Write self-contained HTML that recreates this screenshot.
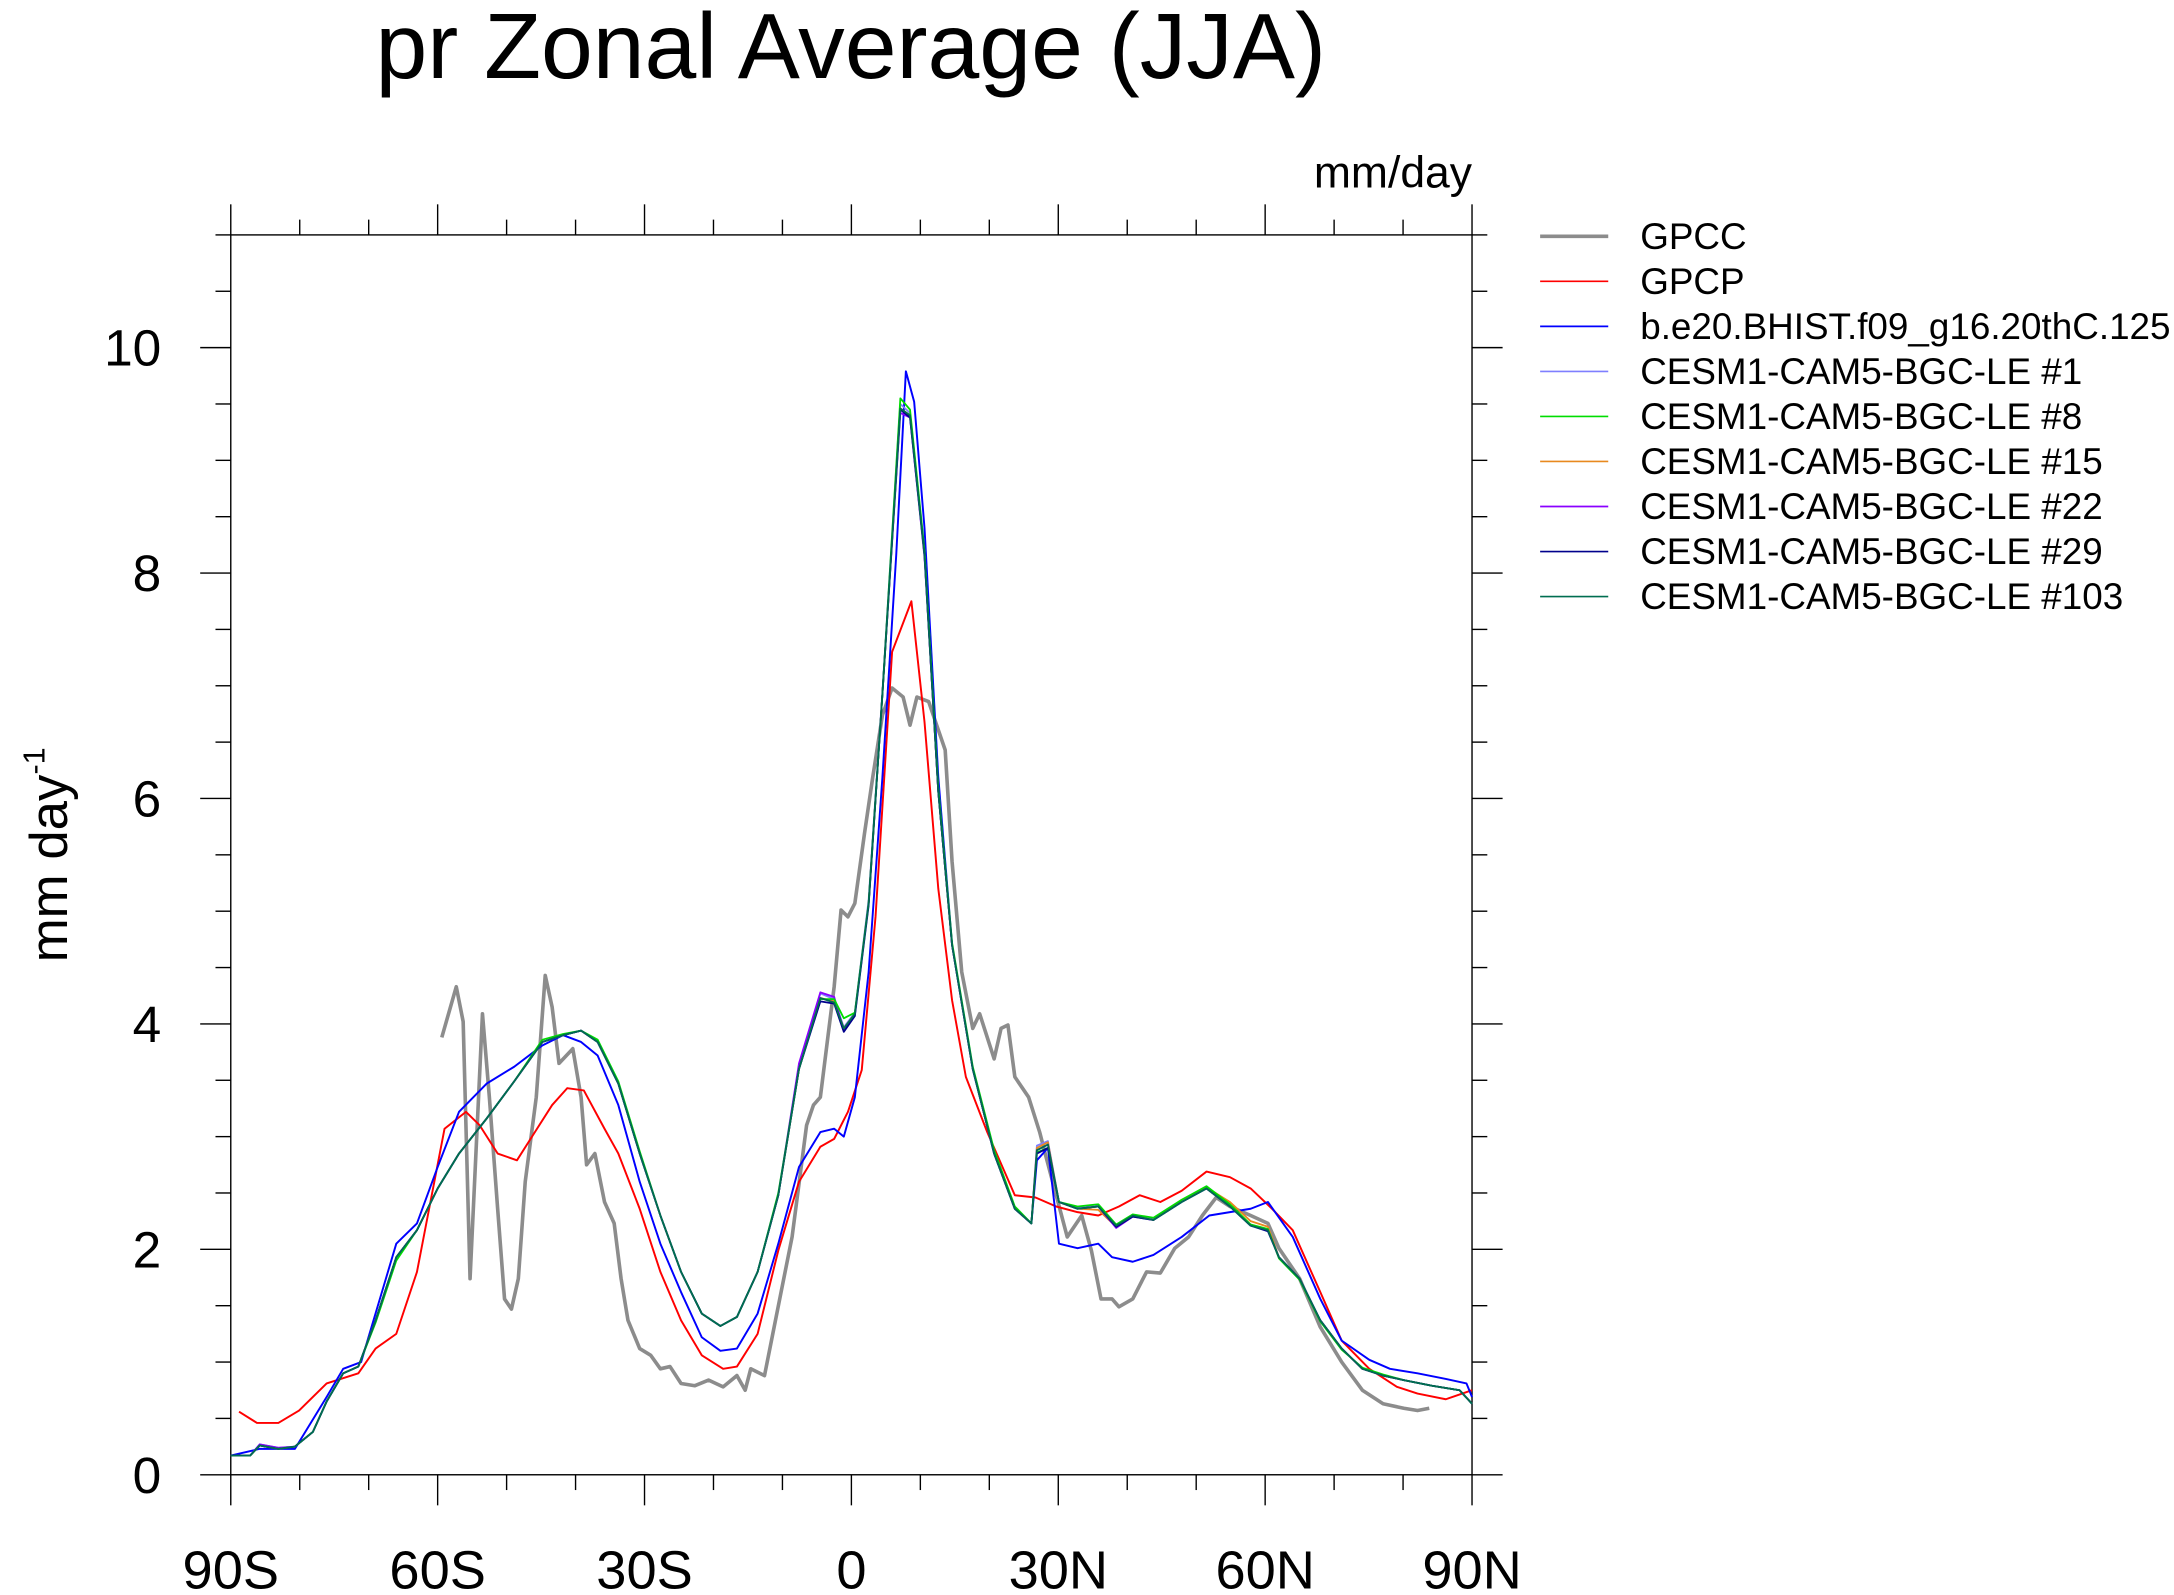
<!DOCTYPE html>
<html><head><meta charset="utf-8"><style>
html,body{margin:0;padding:0;background:#fff;overflow:hidden;}
svg{display:block;font-family:"Liberation Sans",sans-serif;}
</style></head><body>
<svg id="chart" width="2174" height="1595" viewBox="0 0 1564 1147.5" xmlns="http://www.w3.org/2000/svg">
<text x="612" y="56" font-size="67" text-anchor="middle">pr Zonal Average (JJA)</text>
<text x="1059" y="135" font-size="32" text-anchor="end">mm/day</text>
<text transform="translate(48,615) rotate(-90)" font-size="38" text-anchor="middle">mm day<tspan dy="-16" font-size="22">-1</tspan></text>
<g id="axes"></g>
<g id="series"></g>
<g id="legend"></g>
</svg>
<script>
const NS="http://www.w3.org/2000/svg";
const L=166,R=1059,T=169,B=1061,YMAX=11;
const xTickVals=[-90,-60,-30,0,30,60,90];
const xTickLabels=["90S","60S","30S","0","30N","60N","90N"];
const yTickVals=[0,2,4,6,8,10];
const yTickLabels=["0","2","4","6","8","10"];

const gpccLat=[-59.4,-57.3,-56.3,-55.3,-53.5,-52.5,-51.3,-50.3,-49.3,-48.3,-47.3,-45.7,-44.4,-43.4,-42.4,-40.4,-39.2,-38.4,-37.2,-35.8,-34.4,-33.4,-32.4,-30.7,-29.1,-27.7,-26.3,-24.7,-22.7,-20.7,-18.6,-16.6,-15.4,-14.6,-12.6,-11.4,-10.2,-8.6,-6.5,-5.5,-4.5,-2.5,-1.5,-0.5,0.5,1.9,3.1,4.5,5.9,7.5,8.5,9.5,11.2,12.2,13.6,14.6,16.0,17.6,18.6,20.7,21.7,22.7,23.7,25.7,27.3,28.1,29.7,31.3,33.4,34.8,36.2,37.8,38.8,40.8,42.8,44.8,46.9,48.9,50.9,52.9,54.9,57.9,60.4,62.0,65.0,68.0,71.1,74.1,77.1,80.1,82.1,83.8];
const gpccVal=[3.88,4.33,4.02,1.74,4.09,3.35,2.36,1.56,1.47,1.74,2.6,3.35,4.43,4.15,3.65,3.78,3.35,2.75,2.85,2.42,2.23,1.74,1.37,1.12,1.06,0.94,0.96,0.81,0.79,0.84,0.78,0.88,0.75,0.94,0.88,1.25,1.62,2.11,3.1,3.28,3.35,4.33,5.01,4.95,5.07,5.69,6.19,6.74,6.98,6.9,6.65,6.9,6.86,6.68,6.43,5.44,4.46,3.96,4.09,3.69,3.96,3.99,3.53,3.35,3.04,2.85,2.48,2.11,2.3,1.99,1.56,1.56,1.49,1.56,1.8,1.79,2.01,2.11,2.3,2.46,2.38,2.3,2.23,2.01,1.74,1.31,1.0,0.75,0.63,0.59,0.57,0.59];

const gpcpLat=[-88.8,-86.2,-83.1,-80.1,-76.1,-71.5,-69.0,-66.0,-63.0,-59.0,-55.9,-53.9,-51.3,-48.5,-45.9,-43.4,-41.2,-38.8,-35.8,-33.8,-30.7,-27.7,-24.7,-21.7,-18.6,-16.6,-13.6,-10.6,-7.6,-4.5,-2.5,-0.5,1.5,3.5,5.9,8.7,10.6,12.6,14.6,16.6,19.7,23.7,26.7,29.7,32.8,35.8,38.8,41.8,44.8,47.9,51.5,54.9,57.9,61.0,64.0,68.0,71.1,75.1,79.1,82.1,86.2,90];
const gpcpVal=[0.56,0.46,0.46,0.57,0.81,0.9,1.12,1.25,1.8,3.07,3.22,3.1,2.85,2.79,3.04,3.28,3.43,3.41,3.07,2.85,2.36,1.8,1.37,1.06,0.94,0.96,1.25,1.99,2.6,2.91,2.98,3.22,3.59,4.95,7.3,7.75,6.68,5.2,4.21,3.53,3.04,2.48,2.46,2.38,2.33,2.3,2.38,2.48,2.42,2.52,2.69,2.64,2.54,2.36,2.17,1.62,1.19,0.94,0.78,0.72,0.67,0.75];

const cesm2Lat=[-90,-85.8,-80.7,-76.1,-73.7,-71.1,-66.0,-63.0,-60.0,-56.9,-52.9,-48.9,-44.8,-41.8,-39.2,-36.8,-33.8,-30.7,-27.7,-24.7,-21.7,-19.0,-16.6,-13.6,-10.6,-7.6,-4.5,-2.5,-1.1,0.5,2.5,4.5,6.5,7.9,9.1,10.6,12.6,14.6,17.6,20.7,23.7,26.1,26.9,28.5,30.1,32.8,35.8,37.8,40.8,43.8,47.9,51.9,54.9,57.9,60.4,64.0,68.0,71.1,75.1,78.1,82.1,86.2,89.2,90];
const cesm2Val=[0.17,0.23,0.23,0.69,0.94,1.0,2.05,2.23,2.73,3.22,3.47,3.62,3.81,3.9,3.84,3.72,3.28,2.6,2.05,1.62,1.22,1.1,1.12,1.43,2.05,2.73,3.04,3.07,3.0,3.35,4.46,6.19,8.16,9.79,9.52,8.4,6.19,4.7,3.6,2.85,2.36,2.23,2.79,2.9,2.05,2.01,2.05,1.93,1.89,1.95,2.11,2.3,2.33,2.36,2.42,2.11,1.56,1.19,1.02,0.94,0.9,0.85,0.81,0.69];

const ensLat=[-90,-87.2,-85.8,-83.1,-80.7,-78.1,-76.1,-73.7,-71.5,-69.0,-66.0,-63.0,-60.0,-56.9,-52.9,-48.9,-44.8,-41.8,-39.2,-36.8,-33.8,-30.7,-27.7,-24.7,-21.7,-19.0,-16.6,-13.6,-10.6,-7.6,-4.5,-2.5,-1.1,0.5,2.5,4.5,7.1,8.5,10.6,12.6,14.6,17.6,20.7,23.7,26.1,26.9,28.5,30.1,32.8,35.8,38.4,40.8,43.8,47.9,51.5,54.9,57.9,60.4,62.0,65.0,68.0,71.1,74.1,77.1,80.1,84.2,88.2,90];
const ens1Val=[0.17,0.17,0.27,0.24,0.25,0.38,0.65,0.9,0.96,1.37,1.93,2.17,2.54,2.85,3.16,3.49,3.84,3.9,3.94,3.84,3.47,2.85,2.3,1.8,1.43,1.32,1.4,1.8,2.48,3.62,4.27,4.22,3.97,4.1,5.1,6.95,9.5,9.42,8.18,6.06,4.7,3.6,2.85,2.36,2.23,2.92,2.96,2.42,2.37,2.39,2.19,2.3,2.27,2.43,2.55,2.39,2.22,2.17,1.93,1.74,1.37,1.12,0.94,0.88,0.84,0.79,0.75,0.63];
const ens8Val=[0.17,0.17,0.26,0.23,0.25,0.38,0.65,0.9,0.96,1.35,1.9,2.17,2.54,2.85,3.16,3.49,3.86,3.91,3.94,3.86,3.49,2.87,2.3,1.8,1.43,1.32,1.4,1.8,2.5,3.6,4.22,4.22,4.05,4.1,5.07,6.93,9.55,9.45,8.2,6.1,4.72,3.62,2.88,2.38,2.23,2.86,2.9,2.42,2.38,2.4,2.22,2.31,2.28,2.44,2.56,2.4,2.22,2.18,1.92,1.73,1.36,1.11,0.95,0.89,0.84,0.79,0.75,0.63];
const ens15Val=[0.17,0.17,0.26,0.23,0.25,0.38,0.65,0.9,0.96,1.37,1.93,2.17,2.54,2.85,3.16,3.49,3.84,3.9,3.94,3.84,3.47,2.85,2.3,1.8,1.43,1.32,1.4,1.8,2.48,3.6,4.23,4.2,3.96,4.09,5.07,6.93,9.46,9.4,8.16,6.06,4.7,3.6,2.85,2.36,2.23,2.9,2.95,2.42,2.36,2.35,2.2,2.3,2.26,2.44,2.55,2.42,2.25,2.2,1.93,1.74,1.37,1.12,0.94,0.88,0.84,0.79,0.75,0.63];
const ens22Val=[0.17,0.17,0.27,0.24,0.25,0.38,0.65,0.9,0.96,1.37,1.93,2.17,2.54,2.85,3.16,3.49,3.84,3.9,3.94,3.84,3.47,2.85,2.3,1.8,1.43,1.32,1.4,1.8,2.48,3.65,4.28,4.24,3.94,4.08,5.07,6.93,9.42,9.38,8.14,6.06,4.7,3.6,2.85,2.36,2.23,2.88,2.93,2.42,2.36,2.38,2.19,2.29,2.26,2.42,2.54,2.38,2.21,2.17,1.93,1.74,1.37,1.12,0.94,0.88,0.84,0.79,0.75,0.63];
const ens29Val=[0.17,0.17,0.26,0.23,0.25,0.38,0.65,0.9,0.96,1.37,1.93,2.17,2.54,2.85,3.16,3.49,3.84,3.9,3.94,3.84,3.47,2.85,2.3,1.8,1.43,1.32,1.4,1.8,2.48,3.6,4.2,4.18,3.93,4.07,5.05,6.93,9.45,9.38,8.16,6.06,4.7,3.6,2.85,2.36,2.23,2.85,2.9,2.42,2.36,2.38,2.2,2.29,2.26,2.42,2.54,2.38,2.21,2.16,1.93,1.74,1.37,1.12,0.94,0.88,0.84,0.79,0.75,0.63];
const ens103Val=[0.17,0.17,0.26,0.23,0.25,0.38,0.65,0.9,0.96,1.37,1.93,2.17,2.54,2.85,3.16,3.49,3.84,3.9,3.94,3.84,3.47,2.85,2.3,1.8,1.43,1.32,1.4,1.8,2.48,3.6,4.23,4.19,3.96,4.09,5.07,6.93,9.46,9.4,8.16,6.06,4.7,3.6,2.85,2.36,2.23,2.88,2.93,2.42,2.36,2.38,2.21,2.3,2.26,2.42,2.54,2.38,2.21,2.17,1.93,1.74,1.37,1.12,0.94,0.88,0.84,0.79,0.75,0.63];

const seriesNames=["GPCC","GPCP","b.e20.BHIST.f09_g16.20thC.125","CESM1-CAM5-BGC-LE #1","CESM1-CAM5-BGC-LE #8","CESM1-CAM5-BGC-LE #15","CESM1-CAM5-BGC-LE #22","CESM1-CAM5-BGC-LE #29","CESM1-CAM5-BGC-LE #103"];
const seriesLats=[gpccLat,gpcpLat,cesm2Lat,ensLat,ensLat,ensLat,ensLat,ensLat,ensLat];
const seriesVals=[gpccVal,gpcpVal,cesm2Val,ens1Val,ens8Val,ens15Val,ens22Val,ens29Val,ens103Val];
const seriesColors=["#8c8c8c","#ff0000","#0000ff","#7f7fff","#00dd00","#e8891f","#8a00ff","#00008c","#006e50"];
const seriesWidths=[2.6,1.4,1.4,1.3,1.3,1.3,1.3,1.3,1.3];
const seriesKeys=["gpcc","gpcp","bhist","le-1","le-8","le-15","le-22","le-29","le-103"];

function xs(lat){return L+(lat+90)/180*(R-L);}
function ys(v){return B-v/YMAX*(B-T);}
function mk(tag,attrs,parent){const e=document.createElementNS(NS,tag);for(const k in attrs)e.setAttribute(k,attrs[k]);parent.appendChild(e);return e;}

const axes=document.getElementById('axes');
const frame=mk('rect',{x:L,y:T,width:R-L,height:B-T,fill:'none',stroke:'#000','stroke-width':1},axes);


for(let lat=-90;lat<=90;lat+=10){
  const major=lat%30===0; const len=major?22:11; const x=xs(lat);
  const t1=mk('line',{x1:x,x2:x,y1:B,y2:B+len,stroke:'#000','stroke-width':1},axes);
  
  
  const t2=mk('line',{x1:x,x2:x,y1:T,y2:T-len,stroke:'#000','stroke-width':1},axes);
  
  
}
xTickVals.forEach((v,i)=>{
  const t=mk('text',{x:xs(v),y:1143,'font-size':39,'text-anchor':'middle'},axes);
  t.textContent=xTickLabels[i];
  
  
});
for(let k=0;k<=22;k++){
  const v=k*0.5; const major=k%4===0; const len=major?22:11; const y=ys(v);
  const t1=mk('line',{x1:L,x2:L-len,y1:y,y2:y,stroke:'#000','stroke-width':1},axes);
  
  
  const t2=mk('line',{x1:R,x2:R+len,y1:y,y2:y,stroke:'#000','stroke-width':1},axes);
  
  
}
yTickVals.forEach((v,i)=>{
  const t=mk('text',{x:116,y:ys(v)+13,'font-size':37,'text-anchor':'end'},axes);
  t.textContent=yTickLabels[i];
  
  
});

const sg=document.getElementById('series');
const lg=document.getElementById('legend');
const order=[0,1,2,3,4,5,6,7,8];
[0,1,2,3,5,6,4,7,8].forEach(i=>{
  const pts=seriesLats[i].map((la,j)=>xs(la).toFixed(2)+','+ys(seriesVals[i][j]).toFixed(2)).join(' ');
  const p=mk('polyline',{points:pts,fill:'none',stroke:seriesColors[i],'stroke-width':seriesWidths[i],'stroke-linejoin':'round'},sg);
  
  
});
order.forEach((i,r)=>{
  const y=170+r*32.4;
  const g=mk('g',{},lg);
  
  
  mk('line',{x1:1108,x2:1157,y1:y,y2:y,stroke:seriesColors[i],'stroke-width':i===0?2.6:1.2},g);
  const t=mk('text',{x:1180,y:y+9,'font-size':26.5},g);
  t.textContent=seriesNames[i];
});
</script>
</body></html>
